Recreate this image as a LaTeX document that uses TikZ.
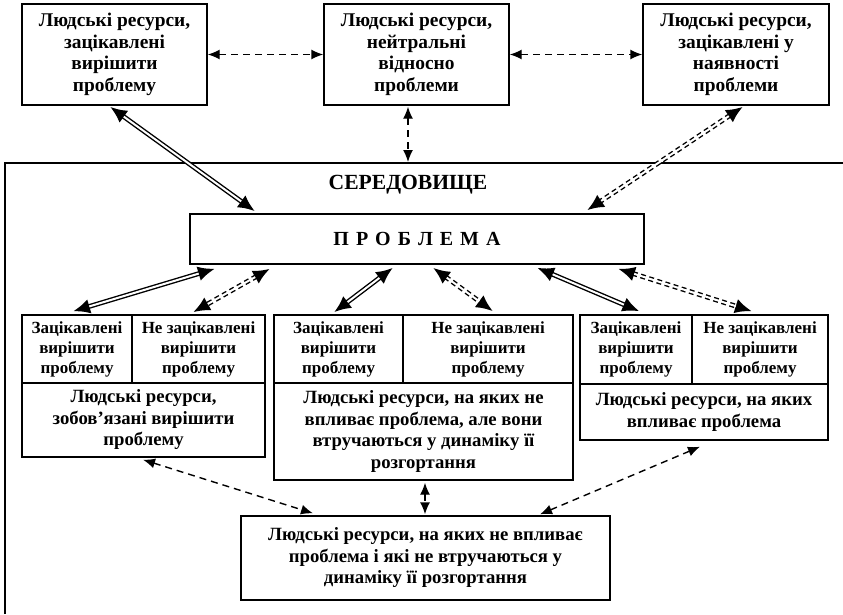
\documentclass[tikz,border=0pt]{standalone}
\usepackage{fontspec}
\setmainfont{Liberation Serif}
\usetikzlibrary{arrows.meta,calc}
\begin{document}
\begin{tikzpicture}[x=1pt,y=-1pt,
  box/.style={draw, line width=1.4pt, rectangle, inner sep=0pt, align=center,
    font=\bfseries\fontsize{18.7}{21.5}\selectfont,
    execute at begin node={\rule{0pt}{19pt}}},
  topbox/.style={box, font=\bfseries\fontsize{19.4}{21.5}\selectfont},
  cell/.style={box, font=\bfseries\fontsize{17}{20}\selectfont,
    execute at begin node={\rule{0pt}{18pt}}},
  dsh/.style={line width=1.4pt, dash pattern=on 7pt off 5pt,
    {Latex[length=12pt,width=10pt]}-{Latex[length=12pt,width=10pt]}},
  dbl/.style={line width=4.8pt,
    {Latex[length=17pt,width=15pt]}-{Latex[length=17pt,width=15pt]},
    postaction={draw=white, solid, line width=2pt, arrows=-,
      shorten <=17pt, shorten >=17pt}},
  dbldsh/.style={dbl, dash pattern=on 5pt off 3.5pt},
]
\useasboundingbox (0,0) rectangle (843,614);

% environment frame
\coordinate (envBL) at (5,614);
\coordinate (envTL) at (5,163);
\coordinate (envTR) at (843,163);
\coordinate (envA) at (408,162);
\draw[line width=1.4pt] (envBL) -- (envTL) -- (envTR);

% top boxes
\node[topbox, minimum width=185pt, minimum height=101pt] (TL) at (114.5,54.5)
  {Людські ресурси,\\зацікавлені\\вирішити\\проблему};
\node[topbox, minimum width=185pt, minimum height=101pt] (TM) at (416.5,54.5)
  {Людські ресурси,\\нейтральні\\відносно\\проблеми};
\node[topbox, minimum width=186pt, minimum height=101pt] (TR) at (736,54.5)
  {Людські ресурси,\\зацікавлені у\\наявності\\проблеми};

\node[font=\bfseries\fontsize{21.6}{24}\selectfont] (env) at (408,185) {СЕРЕДОВИЩЕ};

\node[draw, line width=1.4pt, inner sep=0pt, minimum width=454pt, minimum height=50pt,
  font=\bfseries\fontsize{20}{22}\selectfont] (P) at (417,239)
  {П\hspace{7pt}Р\hspace{7pt}О\hspace{7pt}Б\hspace{7pt}Л\hspace{7pt}Е\hspace{7pt}М\hspace{7pt}А};

% left group
\node[cell, minimum width=110pt, minimum height=68pt] (L1) at (77,349)
  {Зацікавлені\\вирішити\\проблему};
\node[cell, minimum width=133pt, minimum height=68pt] (L2) at (198.5,349)
  {Не зацікавлені\\вирішити\\проблему};
\node[box, minimum width=243pt, minimum height=74pt] (L3) at (143.5,420)
  {Людські ресурси,\\зобов’язані вирішити\\проблему};

% middle group
\node[cell, minimum width=129pt, minimum height=68pt] (M1) at (338.5,349)
  {Зацікавлені\\вирішити\\проблему};
\node[cell, minimum width=170pt, minimum height=68pt] (M2) at (488,349)
  {Не зацікавлені\\вирішити\\проблему};
\node[box, minimum width=299pt, minimum height=97pt] (M3) at (423.5,431.5)
  {Людські ресурси, на яких не\\впливає проблема, але вони\\втручаються у динаміку її\\розгортання};

% right group
\node[cell, minimum width=112pt, minimum height=69pt] (R1) at (636,349.5)
  {Зацікавлені\\вирішити\\проблему};
\node[cell, minimum width=136pt, minimum height=69pt] (R2) at (760,349.5)
  {Не зацікавлені\\вирішити\\проблему};
\node[box, minimum width=248pt, minimum height=56pt] (R3) at (704,412)
  {Людські ресурси, на яких\\впливає проблема};

% bottom box
\node[box, minimum width=369pt, minimum height=84pt] (B) at (425.5,558)
  {Людські ресурси, на яких не впливає\\проблема і які не втручаються у\\динаміку її розгортання};

% connectors, top
\draw[dsh] (TL.east) -- (TM.west);
\draw[dsh] (TM.east) -- (TR.west);
\draw[dsh] ([shift={(-8.5,1)}]TM.south) -- (envA);
\draw[dbl] ([shift={(-4.5,1)}]TL.south) -- ([shift={(-162,-2)}]P.north);
\draw[dbldsh] ([shift={(7,1)}]TR.south) -- ([shift={(170,-3)}]P.north);

% connectors, problem to groups
\draw[dbl] ([shift={(-202,4)}]P.south) -- ([shift={(-4,-3)}]L1.north);
\draw[dbldsh] ([shift={(-147,4)}]P.south) -- ([shift={(-5.5,-2)}]L2.north);
\draw[dbl] ([shift={(-24,3)}]P.south) -- ([shift={(-4.5,-2)}]M1.north);
\draw[dbldsh] ([shift={(16,3)}]P.south) -- ([shift={(5,-3)}]M2.north);
\draw[dbl] ([shift={(120,3)}]P.south) -- ([shift={(3.5,-3)}]R1.north);
\draw[dbldsh] ([shift={(201,4)}]P.south) -- ([shift={(-8,-3)}]R2.north);

% connectors, groups to bottom
\draw[dsh] ([shift={(-0.5,2)}]L3.south) -- ([shift={(-112.5,-2)}]B.north);
\draw[dsh] ([shift={(1.5,2)}]M3.south) -- ([shift={(-0.5,-1)}]B.north);
\draw[dsh] ([shift={(-4,6)}]R3.south) -- ([shift={(114.5,-1)}]B.north);
\end{tikzpicture}
\end{document}
